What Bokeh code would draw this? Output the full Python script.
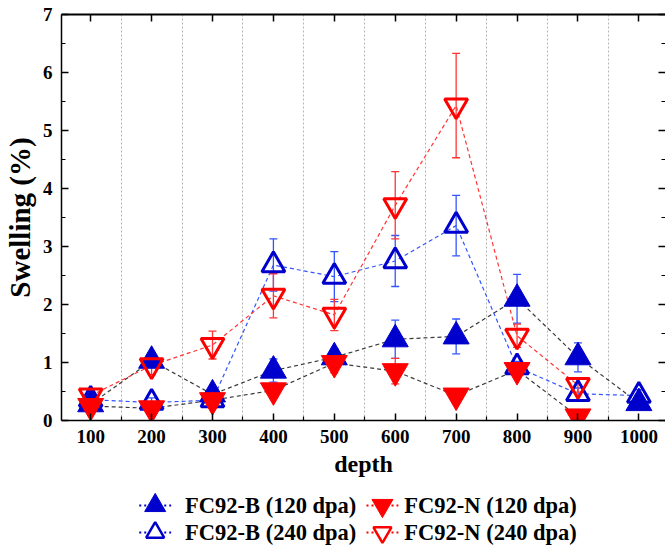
import numpy as np
from bokeh.plotting import figure
from bokeh.models import Range1d, FixedTicker, LinearAxis, CustomJSTickFormatter
from bokeh.layouts import column
from bokeh.core.properties import value
from bokeh.embed import file_html
from bokeh.resources import INLINE

# ---------------- data ----------------
depth = [100, 200, 300, 400, 500, 600, 700, 800, 900, 1000]
depth_n = [100, 200, 300, 400, 500, 600, 700, 800, 900]

b120 = [0.28, 1.03, 0.45, 0.86, 1.09, 1.40, 1.45, 2.10, 1.09, 0.30]
b120_err = [0.08, 0.10, 0.08, 0.20, 0.15, 0.33, 0.30, 0.42, 0.25, 0.06]

b240 = [0.36, 0.31, 0.35, 2.68, 2.48, 2.75, 3.36, 0.92, 0.46, 0.43]
b240_err = [0.15, 0.08, 0.08, 0.45, 0.43, 0.44, 0.52, 0.10, 0.10, 0.10]

n120 = [0.25, 0.21, 0.35, 0.52, 0.99, 0.85, 0.43, 0.87, 0.07]
n120_err = [0.08, 0.06, 0.08, 0.05, 0.17, 0.22, 0.05, 0.10, 0.04]

n240 = [0.43, 0.95, 1.30, 2.15, 1.82, 3.71, 5.43, 1.46, 0.61]
n240_err = [0.12, 0.16, 0.24, 0.38, 0.27, 0.58, 0.90, 0.20, 0.12]

y_ticks = [0, 1, 2, 3, 4, 5, 6, 7]
y_minor = [0.5, 1.5, 2.5, 3.5, 4.5, 5.5, 6.5]
x_minor = [150, 250, 350, 450, 550, 650, 750, 850, 950]

leg_labels = ["FC92-B (120 dpa)", "FC92-B (240 dpa)", "FC92-N (120 dpa)", "FC92-N (240 dpa)"]

# ---------------- style ----------------
SERIF = "Liberation Serif"
BLUE = "#0000CD"
RED = "#FF0000"
BLUE_L = "#3355FF"
RED_L = "#FF3535"
BLK_L = "#3a3a3a"
W = 665
LEFT = 59

p = figure(width=W, height=483, output_backend="svg", toolbar_location=None,
           x_range=Range1d(52.1, 1043.7), y_range=Range1d(0, 7),
           min_border_left=LEFT, min_border_right=0, min_border_top=14, min_border_bottom=63)
p.outline_line_color = None
p.background_fill_color = "white"

blank = CustomJSTickFormatter(code="return ''")

# axes
for ax in [p.xaxis[0], p.yaxis[0]]:
    ax.major_tick_out = 0
    ax.minor_tick_out = 0
    ax.axis_line_width = 1.5
    ax.major_tick_line_width = 1.5
    ax.minor_tick_line_width = 1.2
    ax.major_label_text_font = SERIF
    ax.major_label_text_font_style = "bold"
    ax.major_label_text_color = "black"
    ax.major_label_text_font_size = "19px"
    ax.axis_label_text_font = SERIF
    ax.axis_label_text_font_style = "bold"
    ax.axis_label_text_color = "black"

p.xaxis.ticker = FixedTicker(ticks=depth, minor_ticks=x_minor)
p.xaxis.major_tick_in = 7
p.xaxis.minor_tick_in = 4
p.xaxis.major_label_standoff = 9
p.xaxis.axis_label = "depth"
p.xaxis.axis_label_text_font_size = "24px"
p.xaxis.axis_label_standoff = 5

p.yaxis.ticker = FixedTicker(ticks=y_ticks, minor_ticks=y_minor)
p.yaxis.major_tick_in = 7
p.yaxis.minor_tick_in = 4
p.yaxis.major_label_standoff = 9
p.yaxis.axis_label = "Swelling (%)"
p.yaxis.axis_label_text_font_size = "29px"
p.yaxis.axis_label_standoff = 4

top = LinearAxis(ticker=FixedTicker(ticks=depth), formatter=blank, major_tick_in=7, major_tick_out=0,
                 minor_tick_in=0, minor_tick_out=0, axis_line_width=1.8,
                 major_tick_line_width=1.5, major_label_text_font_size="8px",
                 major_label_standoff=0)
p.add_layout(top, "above")

right = LinearAxis(ticker=FixedTicker(ticks=y_ticks, minor_ticks=y_minor), formatter=blank,
                   major_tick_in=7, major_tick_out=0, minor_tick_in=4, minor_tick_out=0,
                   axis_line_color=None, major_tick_line_width=1.5, minor_tick_line_width=1.2,
                   major_label_text_font_size="8px", major_label_standoff=0)
p.add_layout(right, "right")

# grid
p.ygrid.visible = False
p.xgrid.ticker = FixedTicker(ticks=x_minor)
p.xgrid.grid_line_color = "#b5b5b5"
p.xgrid.grid_line_dash = "2 2"
p.xgrid.grid_line_width = 1

# connecting lines
p.line(depth, b120, line_color=BLK_L, line_dash="4 3", line_width=1.2)
p.line(depth_n, n120, line_color=BLK_L, line_dash="4 3", line_width=1.2)
p.line(depth, b240, line_color=BLUE_L, line_dash="4 3", line_width=1.2)
p.line(depth_n, n240, line_color=RED_L, line_dash="4 3", line_width=1.2)


def errbars(xs, ys, es, color):
    ys = np.array(ys)
    es = np.array(es)
    lo = ys - es
    hi = ys + es
    p.segment(x0=xs, y0=lo, x1=xs, y1=hi, line_color=color, line_width=1.3)
    p.scatter(xs, lo, marker="dash", size=8, line_color=color, line_width=1.3)
    p.scatter(xs, hi, marker="dash", size=8, line_color=color, line_width=1.3)


errbars(depth, b120, b120_err, BLUE_L)
errbars(depth, b240, b240_err, BLUE_L)
errbars(depth_n, n120, n120_err, RED_L)
errbars(depth_n, n240, n240_err, RED_L)

p.scatter(depth, b120, marker="triangle", size=26, fill_color=BLUE, line_color=BLUE, line_width=1)
p.scatter(depth, b240, marker="triangle", size=23, fill_color=None, line_color=BLUE, line_width=3)
p.scatter(depth_n, n120, marker="inverted_triangle", size=26, fill_color=RED, line_color=RED, line_width=1)
p.scatter(depth_n, n240, marker="inverted_triangle", size=23, fill_color=None, line_color=RED, line_width=3)

# ---------------- legend strip (screen-pixel coordinates) ----------------
LH = 62
lg = figure(width=W, height=LH, output_backend="svg", toolbar_location=None,
            x_range=Range1d(LEFT, W), y_range=Range1d(LH, 0),
            x_axis_type=None, y_axis_type=None,
            min_border_left=LEFT, min_border_right=0, min_border_top=0, min_border_bottom=0)
lg.grid.visible = False
lg.outline_line_color = None

gx = [153, 153, 381, 381]
gy = [22, 49, 22, 49]
tx = [183, 183, 403, 403]
leg_colors = [BLUE, BLUE, RED, RED]
leg_markers = ["triangle", "triangle", "inverted_triangle", "inverted_triangle"]
leg_fill = [BLUE, None, RED, None]

for i in range(4):
    lg.segment(x0=[gx[i] - 16], y0=[gy[i]], x1=[gx[i] + 16], y1=[gy[i]],
               line_color=leg_colors[i], line_dash="2 3", line_width=2)
    if leg_fill[i] is None:
        lg.scatter([gx[i]], [gy[i]], marker=leg_markers[i], size=18, fill_color="white",
                   line_color=leg_colors[i], line_width=2.5)
    else:
        lg.scatter([gx[i]], [gy[i]], marker=leg_markers[i], size=21, fill_color=leg_fill[i],
                   line_color=leg_colors[i], line_width=1)

lg.text(tx, gy, text=leg_labels, text_font=value(SERIF), text_font_style="bold",
        text_font_size="22.5px", text_baseline="middle", text_align="left", text_color="black")

layout = column(p, lg, spacing=0)

open("out.html", "w").write(file_html(layout, INLINE))
